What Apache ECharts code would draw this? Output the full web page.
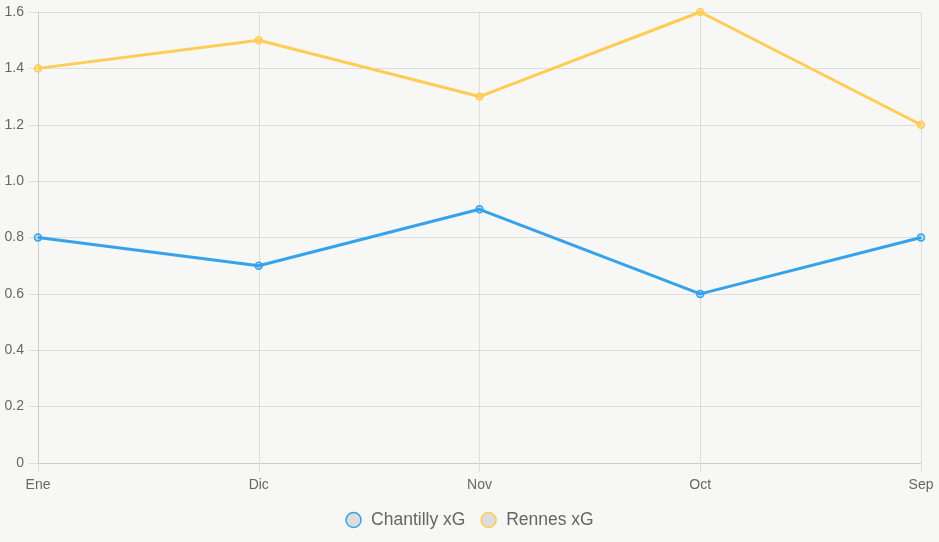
<!DOCTYPE html>
<html>
<head>
<meta charset="utf-8">
<script src="https://cdn.jsdelivr.net/npm/echarts@6/dist/echarts.min.js"></script>
<style>
html,body{margin:0;padding:0;background:#f7f7f5;}
#chart{width:939px;height:542px;}
</style>
</head>
<body>
<div id="chart"></div>
<script>
var months = ['Ene', 'Dic', 'Nov', 'Oct', 'Sep'];
var chantillyXG = [0.8, 0.7, 0.9, 0.6, 0.8];
var rennesXG = [1.4, 1.5, 1.3, 1.6, 1.2];

var chart = echarts.init(document.getElementById('chart'));

var font = 'Arial, "Liberation Sans", sans-serif';

function lineSeries(name, data, color, fill) {
	return {
		name: name,
		type: 'line',
		data: data,
		symbol: 'circle',
		symbolSize: 7,
		lineStyle: { color: color, width: 3 },
		itemStyle: { color: fill, borderColor: color, borderWidth: 1.5 },
		emphasis: { disabled: true }
	};
}

var option = {
	backgroundColor: '#f7f7f5',
	animation: false,
	textStyle: { fontFamily: font },
	grid: { left: 38, right: 18, top: 12, bottom: 79 },
	legend: {
		bottom: 8,
		left: 'center',
		icon: 'circle',
		itemWidth: 15,
		itemHeight: 15,
		itemGap: 15,
		textStyle: { color: '#666', fontSize: 17.5, fontFamily: font, padding: [0, 0, 0, 5] },
		data: [
			{ name: 'Chantilly xG', itemStyle: { color: '#dddddd', borderColor: '#36a2eb', borderWidth: 1.5 } },
			{ name: 'Rennes xG', itemStyle: { color: '#dddddd', borderColor: '#ffcd56', borderWidth: 1.5 } }
		]
	},
	xAxis: {
		type: 'category',
		data: months,
		boundaryGap: false,
		axisLine: { lineStyle: { color: '#cccccc', width: 1 } },
		axisTick: { show: true, length: 9, lineStyle: { color: '#dddddd' } },
		axisLabel: { color: '#666', fontSize: 14, margin: 15, fontFamily: font },
		splitLine: { show: true, lineStyle: { color: '#dddddd', width: 1 } }
	},
	yAxis: {
		type: 'value',
		min: 0,
		max: 1.6,
		interval: 0.2,
		axisLine: { show: true, lineStyle: { color: '#cccccc', width: 1 } },
		axisTick: { show: true, length: 9, lineStyle: { color: '#dddddd' } },
		axisLabel: {
			color: '#666', fontSize: 14, margin: 14, fontFamily: font,
			formatter: function (v) { return v === 0 ? '0' : v.toFixed(1); }
		},
		splitLine: { show: true, lineStyle: { color: '#dddddd', width: 1 } }
	},
	series: [
		lineSeries('Chantilly xG', chantillyXG, '#36a2eb', 'rgba(54,162,235,0.3)'),
		lineSeries('Rennes xG', rennesXG, '#ffcd56', 'rgba(255,205,86,0.5)')
	]
};

chart.setOption(option);
</script>
</body>
</html>
